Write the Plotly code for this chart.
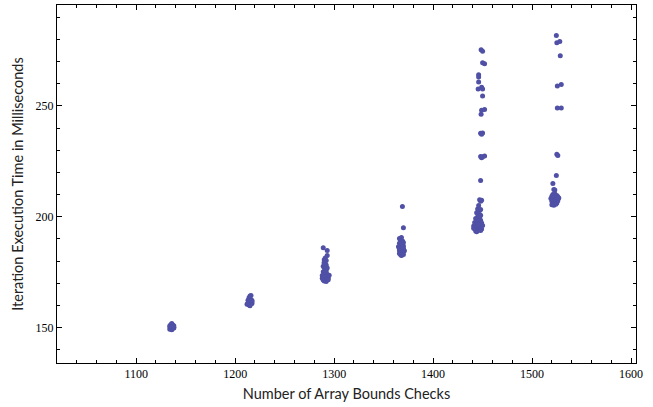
import plotly.graph_objects as go

# Number of array bounds checks vs. iteration time, one cluster per configuration
x1 = [1134, 1135, 1136, 1137, 1138, 1135, 1136, 1137, 1134, 1136,
      1138, 1135, 1137, 1136, 1135, 1137, 1136, 1134, 1138, 1136]
y1 = [149.2, 149.6, 150.0, 150.4, 150.8, 151.2, 151.5, 150.9, 150.2, 149.4,
      149.8, 150.6, 151.0, 149.0, 150.3, 149.7, 151.8, 150.8, 150.1, 150.5]

x2 = [1212, 1213, 1214, 1215, 1216, 1217, 1213, 1214, 1215, 1216,
      1217, 1214, 1215, 1216, 1213, 1215, 1214, 1216, 1217, 1215]
y2 = [160.5, 161.0, 161.5, 162.0, 161.2, 160.8, 162.3, 160.2, 161.8, 162.5,
      161.6, 163.4, 164.2, 164.4, 160.9, 160.4, 162.0, 161.0, 162.2, 159.8]

x3 = [1289, 1293, 1293, 1291, 1290, 1292, 1290, 1291, 1292, 1289,
      1290, 1291, 1292, 1293, 1289, 1290, 1291, 1292, 1293, 1294,
      1288, 1289, 1290, 1291, 1292, 1293, 1294, 1295, 1289, 1290,
      1291, 1292, 1293, 1288, 1290, 1292, 1294, 1291, 1290, 1292]
y3 = [186.0, 184.7, 182.5, 181.4, 180.6, 180.2, 179.5, 178.8, 178.2, 177.6,
      177.0, 176.4, 175.9, 176.8, 175.2, 174.6, 174.0, 174.3, 173.8, 173.2,
      173.5, 172.8, 172.4, 172.0, 172.6, 171.8, 172.2, 173.6, 171.4, 171.0,
      171.2, 170.8, 171.5, 172.2, 173.0, 174.8, 171.6, 175.5, 179.0, 177.2]

x4 = [1369, 1370, 1366, 1367, 1368, 1369, 1370, 1366, 1367, 1368,
      1369, 1370, 1365, 1366, 1367, 1368, 1369, 1370, 1371, 1366,
      1367, 1368, 1369, 1370, 1366, 1367, 1368, 1369, 1370, 1367,
      1368, 1369, 1366, 1368, 1370]
y4 = [204.6, 195.0, 190.2, 189.5, 190.6, 189.0, 188.4, 188.0, 187.6, 187.2,
      188.8, 186.8, 186.4, 186.0, 185.6, 185.2, 186.4, 185.0, 184.6, 184.8,
      184.4, 184.0, 183.6, 184.2, 183.4, 183.0, 182.7, 183.2, 185.8, 186.9,
      188.2, 187.4, 185.4, 182.5, 183.0]

x5 = [1448.5, 1450, 1450, 1452, 1446, 1446, 1446, 1445.5, 1449, 1450,
      1450, 1449, 1452, 1448.5, 1448, 1449, 1450, 1448, 1449, 1450,
      1452, 1448, 1447, 1448, 1449, 1446,
      1445, 1447, 1448, 1444, 1446, 1448, 1445, 1447, 1443, 1446,
      1448, 1444, 1442, 1445, 1447, 1449, 1443, 1441, 1444, 1446,
      1448, 1442, 1445, 1447, 1443, 1449, 1446, 1444, 1448, 1441,
      1450, 1445, 1447]
y5 = [275.3, 274.6, 269.5, 269.0, 264.0, 263.0, 260.8, 257.6, 258.4, 257.6,
      254.5, 248.0, 248.4, 246.2, 237.6, 237.2, 237.8, 227.2, 226.6, 227.0,
      227.4, 216.3, 207.6, 207.0, 207.4, 205.0,
      203.5, 202.8, 203.2, 201.8, 201.2, 200.6, 200.0, 199.6, 199.2, 198.8,
      198.4, 198.0, 197.4, 197.0, 196.6, 197.2, 196.2, 195.8, 195.4, 195.0,
      195.6, 194.6, 194.2, 194.0, 193.6, 194.4, 196.4, 193.2, 193.8, 194.8,
      196.0, 198.6, 200.2]

x6 = [1524.5, 1525, 1528, 1528.5, 1525.5, 1529.5, 1525.5, 1529.5, 1525, 1526,
      1524.5, 1521, 1522, 1523,
      1521, 1523, 1525, 1520, 1522, 1524, 1526, 1519, 1521, 1523,
      1525, 1527, 1520, 1522, 1524, 1526, 1521, 1523, 1525, 1520,
      1522, 1524]
y6 = [281.7, 278.5, 279.0, 272.6, 259.0, 259.6, 249.0, 249.0, 228.2, 227.6,
      218.6, 215.0, 212.3, 212.0,
      210.0, 210.4, 209.6, 209.2, 208.8, 208.6, 209.0, 208.2, 207.8, 207.6,
      208.0, 208.4, 207.0, 206.6, 206.8, 207.2, 206.0, 205.8, 206.2, 205.4,
      205.2, 205.6]

xs = x1 + x2 + x3 + x4 + x5 + x6
ys = y1 + y2 + y3 + y4 + y5 + y6

fig = go.Figure()
fig.add_trace(go.Scatter(
    x=xs, y=ys, mode="markers",
    marker=dict(size=5, color="#4f50a6", line=dict(width=0)),
    showlegend=False,
))

tick_font = dict(family="Liberation Serif, Times New Roman, DejaVu Serif, serif",
                 size=12, color="black")
title_font = dict(family="Lato", size=14.5, color="#222")

axis_common = dict(
    showgrid=False, zeroline=False, automargin=False,
    showline=True, linecolor="black", linewidth=1, mirror="ticks",
    ticks="inside", ticklen=5, tickwidth=1, tickcolor="black",
    tickfont=tick_font,
)

fig.update_xaxes(
    range=[1020, 1605], tick0=1000, dtick=100,
    minor=dict(dtick=20, ticks="inside", ticklen=3, tickcolor="black", showgrid=False),
    title=dict(text="Number of Array Bounds Checks", font=title_font, standoff=8),
    **axis_common,
)
fig.update_yaxes(
    range=[134, 295.5], tick0=0, dtick=50,
    minor=dict(dtick=10, ticks="inside", ticklen=3, tickcolor="black", showgrid=False),
    title=dict(text="Iteration Execution Time in Milliseconds", font=title_font, standoff=8),
    **axis_common,
)

fig.update_layout(
    width=653, height=407,
    margin=dict(l=57, r=17, t=5, b=44),
    plot_bgcolor="white", paper_bgcolor="white",
)

# drop the browser's default page margin so the figure sits at the window origin
fig.write_html("out.html", config={"displayModeBar": False},
               post_script="document.body.style.margin='0';")
